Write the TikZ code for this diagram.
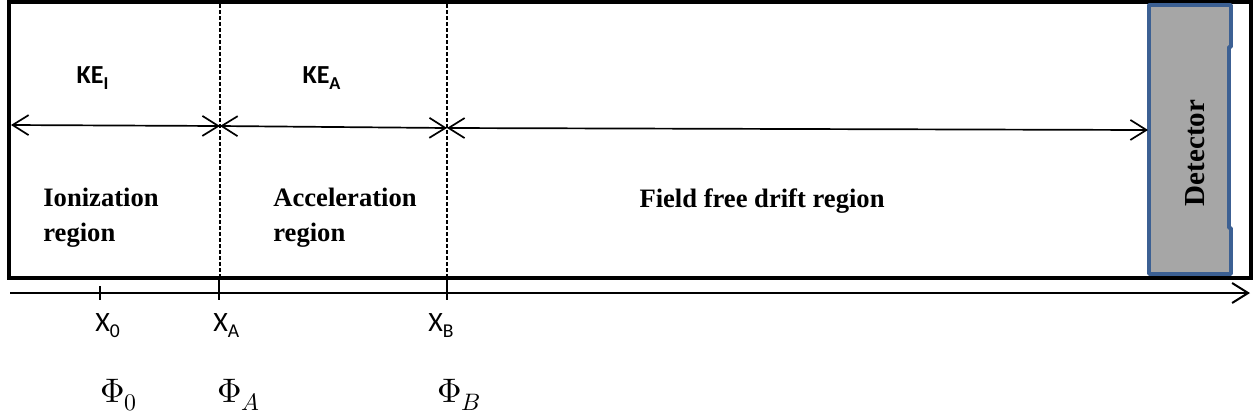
\documentclass[tikz,border=0pt]{standalone}
\usepackage{unicode-math}
\setmainfont{Liberation Serif}
\setmathfont{Latin Modern Math}
\newfontfamily\calibri{Carlito}
\usetikzlibrary{arrows.meta}
\definecolor{detblue}{HTML}{3C6093}
\definecolor{detgray}{HTML}{A6A6A6}

\begin{document}
\begin{tikzpicture}[x=0.5pt,y=-0.5pt,
    region/.style={font=\bfseries\fontsize{13.3}{17.5}\selectfont,align=left,inner sep=0pt},
    ke/.style={font=\calibri\bfseries\fontsize{13}{15}\selectfont,inner sep=0pt},
    xlab/.style={font=\calibri\fontsize{14}{16}\selectfont,inner sep=0pt,anchor=base west},
    philab/.style={font=\fontsize{17}{19}\selectfont,inner sep=0pt,anchor=base west},
    tick/.style={line width=1pt},
    >={Straight Barb[length=8pt,width=10pt]}
]
\useasboundingbox (0,0) rectangle (1255,419);

% chamber and detector
\draw[line width=2pt] (9,2) rectangle (1250.5,277.5);
\draw[detblue,fill=detgray,line width=1.8pt,line join=round]
  (1149,5) -- (1231,5) -- (1231,47) -- (1229,47) -- (1229,228) -- (1231,228)
  -- (1231,274) -- (1149,274) -- cycle;
\node[font=\bfseries\fontsize{14.5}{16}\selectfont,rotate=90] (det) at (1195,153) {Detector};

% region borders
\draw[dashed,dash pattern=on 2pt off 1pt,line width=0.7pt] (220,4) -- (220,276);
\draw[dashed,dash pattern=on 2pt off 1pt,line width=0.7pt] (447,4) -- (447,276);

% energy arrows
\coordinate (l) at (11,125);
\coordinate (a) at (220,126);
\coordinate (b) at (447,128);
\coordinate (d) at (1148,130);
\draw[<->,line width=0.85pt] (l) -- (a);
\draw[<->,line width=0.85pt] (a) -- (b);
\draw[<->,line width=0.85pt] (b) -- (d);

\node[ke] (kei) at (93,78) {KE\textsubscript{I}};
\node[ke] (kea) at (322,78) {KE\textsubscript{A}};

\node[region,anchor=west] (ion) at (43,218) {Ionization\\region};
\node[region,anchor=west] (acc) at (273,218) {Acceleration\\region};
\node[region] (drift) at (762,201) {Field free drift region};

% position axis
\coordinate (axl) at (10,293);
\coordinate (axr) at (1250,293);
\draw[->,line width=1pt] (axl) -- (axr);
\draw[tick] (100,286) -- (100,300);
\draw[tick] (219,280) -- (219,300);
\draw[tick] (447,280) -- (447,300);

\node[xlab] (x0) at (95,331) {X\textsubscript{0}};
\node[xlab] (xa) at (213,331) {X\textsubscript{A}};
\node[xlab] (xb) at (428,331) {X\textsubscript{B}};

\node[philab] (p0) at (100,402) {$\Phi_0$};
\node[philab] (pa) at (217,402) {$\Phi_A$};
\node[philab] (pb) at (437,402) {$\Phi_B$};
\end{tikzpicture}
\end{document}
